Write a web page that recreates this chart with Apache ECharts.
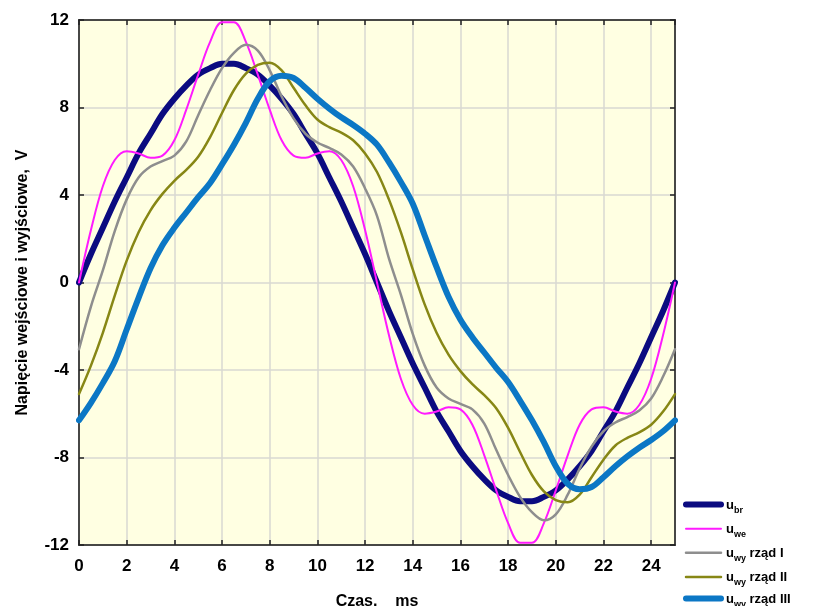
<!DOCTYPE html>
<html>
<head>
<meta charset="utf-8">
<script src="https://cdn.jsdelivr.net/npm/echarts@6/dist/echarts.min.js"></script>
<style>
html,body{margin:0;padding:0;background:#fff;}
#chart{width:814px;height:606px;}
</style>
</head>
<body>
<div id="chart"></div>
<script>
// Time axis, ms
const times = [0,0.5,1,1.5,2,2.5,3,3.5,4,4.5,5,5.5,6,6.5,7,7.5,8,8.5,9,9.5,10,10.5,11,11.5,12,12.5,
  13,13.5,14,14.5,15,15.5,16,16.5,17,17.5,18,18.5,19,19.5,20,20.5,21,21.5,22,22.5,23,23.5,24,24.5,25];

// u_br (fundamental)
const uBr = [0,1.3,2.5,3.7,4.8,5.9,6.8,7.7,8.4,9.0,9.5,9.8,10.0,10.0,9.8,9.5,9.0,8.4,7.7,6.8,5.9,4.8,3.7,2.5,1.3,0,
  -1.3,-2.5,-3.7,-4.8,-5.9,-6.8,-7.7,-8.4,-9.0,-9.5,-9.8,-10.0,-10.0,-9.8,-9.5,-9.0,-8.4,-7.7,-6.8,-5.9,-4.8,-3.7,-2.5,-1.3,0];

// u_we (input with harmonic)
const uWe = [0,2.4,4.4,5.6,6.0,5.9,5.7,5.8,6.5,7.9,9.5,11.0,11.9,11.9,11.0,9.5,7.9,6.5,5.8,5.7,5.9,6.0,5.6,4.4,2.4,0,
  -2.4,-4.4,-5.6,-6.0,-5.9,-5.7,-5.8,-6.5,-7.9,-9.5,-11.0,-11.9,-11.9,-11.0,-9.5,-7.9,-6.5,-5.8,-5.7,-5.9,-6.0,-5.6,-4.4,-2.4,0];

// u_wy rząd I
const uWy1 = [-3.05,-1.1,0.55,2.35,3.8,4.8,5.3,5.55,5.8,6.45,7.65,8.8,9.8,10.5,10.87,10.6,9.7,8.5,7.5,6.8,6.4,6.15,5.85,5.3,4.3,3.05,
  1.1,-0.55,-2.35,-3.8,-4.8,-5.3,-5.55,-5.8,-6.45,-7.65,-8.8,-9.8,-10.5,-10.87,-10.6,-9.7,-8.5,-7.5,-6.8,-6.4,-6.15,-5.85,-5.3,-4.3,-3.05];

// u_wy rząd II
const uWy2 = [-5.1,-3.8,-2.3,-0.6,1.0,2.3,3.3,4.05,4.65,5.15,5.75,6.65,7.75,8.8,9.55,9.95,10.05,9.7,8.9,8.1,7.45,7.1,6.85,6.5,5.9,5.05,
  3.8,2.3,0.6,-1.0,-2.3,-3.3,-4.05,-4.65,-5.15,-5.75,-6.65,-7.75,-8.8,-9.55,-9.95,-10.05,-9.7,-8.9,-8.1,-7.45,-7.1,-6.85,-6.5,-5.9,-5.1];

// u_wy rząd III
const uWy3 = [-6.3,-5.5,-4.6,-3.6,-2.15,-0.7,0.65,1.7,2.5,3.2,3.9,4.55,5.4,6.3,7.3,8.4,9.2,9.45,9.35,8.9,8.4,7.95,7.55,7.2,6.8,6.3,
  5.5,4.6,3.6,2.15,0.7,-0.65,-1.7,-2.5,-3.2,-3.9,-4.55,-5.4,-6.3,-7.3,-8.4,-9.2,-9.45,-9.35,-8.9,-8.4,-7.95,-7.55,-7.2,-6.8,-6.3];

const seriesNames = ['u_br','u_we','u_wy rząd I','u_wy rząd II','u_wy rząd III'];
const legendMain = ['u','u','u','u','u'];
const legendSub = ['br','we','wy','wy','wy'];
const legendTail = ['','',' rząd I',' rząd II',' rząd III'];

const xTicks = {min:0, max:25, interval:2};
const yTicks = {min:-12, max:12, interval:4};

const allValues = [uBr,uWe,uWy1,uWy2,uWy3];
const colors = ['#0b0b80','#ff1aff','#8e8e8e','#878715','#0b77c5'];
const widths = [6,2,2.5,2.5,6];

const chart = echarts.init(document.getElementById('chart'), null, {renderer:'canvas'});
const font = '"Liberation Sans", Arial, sans-serif';

const series = allValues.map((vals,i)=>({
  name: seriesNames[i],
  type: 'line',
  xAxisIndex: 0, yAxisIndex: 0,
  data: times.map((t,k)=>[t, vals[k]]),
  smooth: 0.35,
  symbol: 'none',
  lineStyle: {color: colors[i], width: widths[i], cap:'round', join:'round'},
  itemStyle: {color: colors[i]},
  z: 3 + i,
  animation: false
}));

function legendCfg(names, top){
  return {
    orient:'vertical', left:683, top:top, itemWidth:35, itemHeight:14, itemGap:8, padding:0,
    data: names,
    lineStyle:{width:'inherit', cap:'round'},
    itemStyle:{color:'rgba(0,0,0,0)', borderWidth:0, opacity:0},
    formatter: function(name){
      const i = seriesNames.indexOf(name);
      return '{m|' + legendMain[i] + '}{s|' + legendSub[i] + '}{m|' + legendTail[i] + '}';
    },
    textStyle:{
      color:'#000', fontFamily:font, fontWeight:'bold',
      rich:{
        m:{fontSize:13, fontWeight:'bold', fontFamily:font, color:'#000', lineHeight:15, verticalAlign:'bottom'},
        s:{fontSize:9, fontWeight:'bold', fontFamily:font, color:'#000', lineHeight:15, verticalAlign:'bottom', padding:[0,0,-3,0]}
      }
    }
  };
}

const option = {
  animation: false,
  backgroundColor: '#ffffff',
  grid: {left:79, top:20, width:596, height:525, show:true, backgroundColor:'#ffffe2', borderColor:'#222', borderWidth:1.5,
         containLabel:false, outerBoundsMode:'none'},
  legend: [legendCfg(seriesNames.slice(0,4), 499), legendCfg(seriesNames.slice(4), 593)],
  xAxis: [
    {type:'value', position:'bottom', min:xTicks.min, max:xTicks.max, interval:xTicks.interval,
     name:'Czas,    ms', nameLocation:'middle', nameGap:49,
     nameTextStyle:{fontFamily:font, fontWeight:'bold', fontSize:16, color:'#000'},
     axisLine:{show:true, onZero:false, lineStyle:{color:'#222', width:1.5}},
     axisTick:{show:true, inside:true, length:5, lineStyle:{color:'#222', width:1.5}},
     axisLabel:{showMaxLabel:false, margin:13, fontFamily:font, fontWeight:'bold', fontSize:17, color:'#000'},
     splitLine:{show:true, lineStyle:{color:'#d9d9d2', width:1.5}}
    },
    {type:'value', position:'top', min:xTicks.min, max:xTicks.max, interval:xTicks.interval,
     axisLine:{show:true, onZero:false, lineStyle:{color:'#222', width:1.5}},
     axisTick:{show:true, inside:true, length:5, lineStyle:{color:'#222', width:1.5}},
     axisLabel:{show:false}, splitLine:{show:false}
    }
  ],
  yAxis: [
    {type:'value', position:'left', min:yTicks.min, max:yTicks.max, interval:yTicks.interval,
     name:'Napięcie wejściowe i wyjściowe,  V', nameLocation:'middle', nameGap:48, nameRotate:90,
     nameTextStyle:{fontFamily:font, fontWeight:'bold', fontSize:16, color:'#000'},
     axisLine:{show:true, onZero:false, lineStyle:{color:'#222', width:1.5}},
     axisTick:{show:true, inside:true, length:5, lineStyle:{color:'#222', width:1.5}},
     axisLabel:{margin:10, fontFamily:font, fontWeight:'bold', fontSize:17, color:'#000'},
     splitLine:{show:true, lineStyle:{color:'#d9d9d2', width:1.5}}
    },
    {type:'value', position:'right', min:yTicks.min, max:yTicks.max, interval:yTicks.interval,
     axisLine:{show:true, onZero:false, lineStyle:{color:'#222', width:1.5}},
     axisTick:{show:true, inside:true, length:5, lineStyle:{color:'#222', width:1.5}},
     axisLabel:{show:false}, splitLine:{show:false}
    }
  ],
  series: series
};
chart.setOption(option);
</script>
</body>
</html>
